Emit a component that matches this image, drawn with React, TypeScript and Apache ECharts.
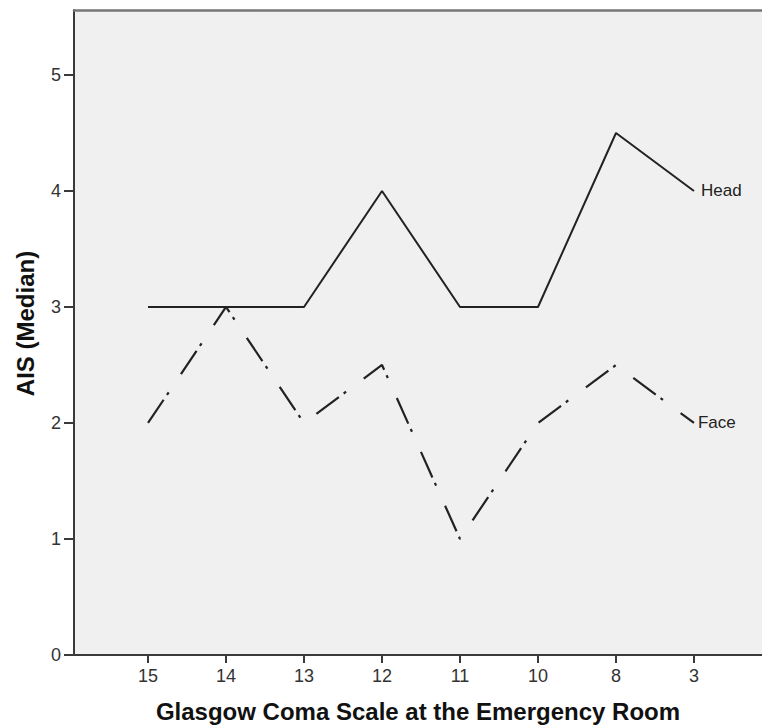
import React, { useEffect, useRef } from "react";
import * as echarts from "echarts";

const xLabels = ["15", "14", "13", "12", "11", "10", "8", "3"];
const headValues = [3, 3, 3, 4, 3, 3, 4.5, 4];
const faceValues = [2, 3, 2, 2.5, 1, 2, 2.5, 2];
const yTicks = [0, 1, 2, 3, 4, 5];

const FONT = "Arial, 'Liberation Sans', Helvetica, sans-serif";

export default function App() {
  const ref = useRef<HTMLDivElement>(null);

  useEffect(() => {
    if (!ref.current) return;
    const chart = echarts.init(ref.current, undefined, { renderer: "svg" });
    const xIdx = xLabels.map((_, i) => i);
    const option: any = {
      animation: false,
      backgroundColor: "#ffffff",
      grid: {
        left: 74,
        right: 0,
        top: 10,
        bottom: 71,
        show: true,
        backgroundColor: "#f0f0f0",
        borderWidth: 0,
      },
      xAxis: [
        {
          type: "value",
          min: -0.949,
          max: 7.872,
          position: "bottom",
          splitLine: { show: false },
          axisLine: { show: true, onZero: false, lineStyle: { color: "#3a3a3a", width: 2 } },
          axisTick: {
            show: true,
            length: 8,
            inside: false,
            customValues: xIdx,
            lineStyle: { color: "#3a3a3a", width: 2 },
          },
          axisLabel: {
            show: true,
            customValues: xIdx,
            margin: 12,
            color: "#333",
            fontSize: 18,
            fontFamily: FONT,
            formatter: (v: number) => {
              const i = Math.round(v);
              return Math.abs(v - i) < 1e-6 && xLabels[i] !== undefined ? xLabels[i] : "";
            },
          },
          name: "Glasgow Coma Scale at the Emergency Room",
          nameLocation: "middle",
          nameGap: 44,
          nameTextStyle: { fontSize: 24, fontWeight: "bold", color: "#111", fontFamily: FONT },
        },
        {
          type: "value",
          min: -0.949,
          max: 7.872,
          position: "top",
          splitLine: { show: false },
          axisLine: { show: true, onZero: false, lineStyle: { color: "#777", width: 2.5 } },
          axisTick: { show: false },
          axisLabel: { show: false },
        },
      ],
      yAxis: {
        type: "value",
        min: 0,
        max: 5.56,
        splitLine: { show: false },
        axisLine: { show: true, onZero: false, lineStyle: { color: "#3a3a3a", width: 2 } },
        axisTick: {
          show: true,
          length: 10,
          inside: false,
          customValues: yTicks,
          lineStyle: { color: "#3a3a3a", width: 2 },
        },
        axisLabel: {
          show: true,
          customValues: yTicks,
          margin: 13,
          color: "#333",
          fontSize: 18,
          fontFamily: FONT,
          formatter: (v: number) => (Math.abs(v - Math.round(v)) < 1e-6 ? String(Math.round(v)) : ""),
        },
        name: "AIS (Median)",
        nameLocation: "middle",
        nameGap: 37,
        nameTextStyle: {
          fontSize: 24,
          fontWeight: "bold",
          color: "#111",
          fontFamily: FONT,
          padding: [0, 0, 0, 18],
        },
      },
      series: [
        {
          name: "Head",
          type: "line",
          xAxisIndex: 0,
          data: headValues.map((v, i) => [i, v]),
          symbol: "none",
          lineStyle: { color: "#222", width: 2 },
          endLabel: {
            show: true,
            formatter: "{a}",
            distance: 7,
            color: "#222",
            fontSize: 17,
            fontFamily: FONT,
          },
        },
        {
          name: "Face",
          type: "line",
          xAxisIndex: 0,
          data: faceValues.map((v, i) => [i, v]),
          symbol: "none",
          lineStyle: { color: "#222", width: 2.2, type: [28, 6, 3, 22], cap: "butt" },
          endLabel: {
            show: true,
            formatter: "{a}",
            distance: 4,
            color: "#222",
            fontSize: 17,
            fontFamily: FONT,
          },
        },
      ],
    };
    chart.setOption(option);
    return () => chart.dispose();
  }, []);

  return (
    <div
      ref={ref}
      style={{ position: "absolute", left: 0, top: 0, width: 762, height: 728 }}
    />
  );
}
